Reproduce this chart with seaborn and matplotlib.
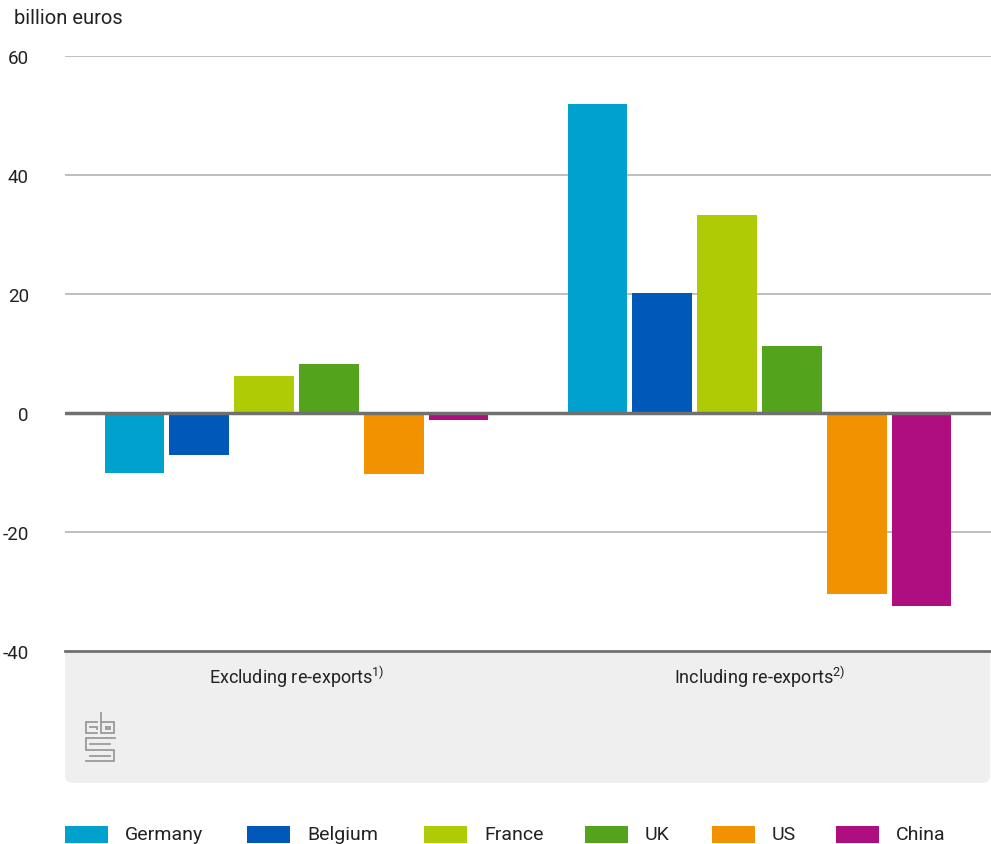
import matplotlib
matplotlib.use("Agg")
import matplotlib.pyplot as plt
import seaborn as sns
import pandas as pd
from matplotlib.patches import FancyBboxPatch, Rectangle
from matplotlib.lines import Line2D

# Trade balance data (billion euros)
groups = ["Excluding re-exports$^{\\mathregular{1)}}$", "Including re-exports$^{\\mathregular{2)}}$"]
countries = ["Germany", "Belgium", "France", "UK", "US", "China"]
excluding = [-10.0, -7.0, 6.2, 8.2, -10.3, -1.2]
including = [52.0, 20.2, 33.2, 11.3, -30.5, -32.5]
colors = ["#00a1cd", "#0058b8", "#afcb05", "#53a31d", "#f39200", "#af0e80"]
yticks = [-40, -20, 0, 20, 40, 60]

df = pd.DataFrame({
    "group": [groups[0]] * len(countries) + [groups[1]] * len(countries),
    "country": countries * 2,
    "value": excluding + including,
})

sns.set_theme(style="white")
plt.rcParams["font.family"] = ["Roboto", "DejaVu Sans"]
plt.rcParams["mathtext.fontset"] = "custom"
plt.rcParams["mathtext.rm"] = "Roboto"
plt.rcParams["mathtext.it"] = "Roboto"

W, H = 991, 845
fig = plt.figure(figsize=(W / 100, H / 100), dpi=100)
fig.patch.set_facecolor("white")

def fx(px):
    return px / W

def fy(py):
    return 1 - py / H

# Grey label panel below the plot area
panel = FancyBboxPatch((fx(65), fy(784)), fx(990) - fx(65), fy(640) - fy(784),
                       boxstyle="round,pad=0,rounding_size=0.008",
                       transform=fig.transFigure, facecolor="#efefef",
                       edgecolor="none", zorder=0)
fig.patches.append(panel)

ax = fig.add_axes([fx(65), fy(652), fx(991) - fx(65), fy(57) - fy(652)])
ax.set_facecolor("white")
ax.set_zorder(1)

sns.barplot(data=df, x="group", y="value", hue="country", hue_order=countries,
            palette=colors, width=0.84, gap=0.08, dodge=True, ax=ax, legend=False,
            linewidth=0, saturation=1, zorder=2)

ax.set_xlim(-0.5, 1.5)
ax.set_ylim(-40, 60)
ax.set_yticks(yticks)
ax.set_yticklabels([str(v) for v in yticks], fontsize=13.5, color="#222222")
ax.tick_params(axis="y", length=0, pad=26)
ax.tick_params(axis="x", length=0, pad=9, labelsize=13, labelcolor="#222222")
ax.set_xlabel("")
ax.set_ylabel("")

for y in yticks:
    if y not in (0, -40):
        ax.axhline(y, color="#b4b4b4", lw=1.2, zorder=1)
ax.axhline(0, color="#707070", lw=2.5, zorder=3)

for side in ["top", "right", "left"]:
    ax.spines[side].set_visible(False)
ax.spines["bottom"].set_color("#707070")
ax.spines["bottom"].set_linewidth(2)

fig.text(fx(14), fy(18), "billion euros", fontsize=14.5, color="#222222",
         ha="left", va="center")

# CBS logo
logo_paths = [
    [(97, 723), (86, 723), (86, 734), (97, 734)],
    [(90, 727.5), (97, 727.5), (97, 730)],
    [(101, 714), (101, 734), (114, 734), (114, 723), (101, 723)],
    [(105.5, 727.5), (109.5, 727.5), (109.5, 730), (105.5, 730), (105.5, 727.5)],
    [(115, 739), (86, 739), (86, 750.5), (114, 750.5), (114, 762), (86, 762)],
    [(90, 756.5), (110, 756.5)],
    [(90, 744.5), (110, 744.5)],
]
for path in logo_paths:
    xs = [fx(p[0]) for p in path]
    ys = [fy(p[1]) for p in path]
    fig.add_artist(Line2D(xs, ys, transform=fig.transFigure, color="#9a9a9a",
                          lw=1.3, solid_joinstyle="miter", solid_capstyle="projecting", zorder=5))

# Legend along the bottom
legend_x = [65, 247, 424, 585, 712, 836]
for name, col, x0 in zip(countries, colors, legend_x):
    fig.patches.append(Rectangle((fx(x0), fy(844)), fx(43), fy(827) - fy(844),
                                 transform=fig.transFigure, facecolor=col,
                                 edgecolor="none"))
    fig.text(fx(x0 + 60), fy(835.5), name, fontsize=14, color="#222222",
             ha="left", va="center", fontstretch="condensed")

fig.savefig("out.png", dpi=100, facecolor="white")
